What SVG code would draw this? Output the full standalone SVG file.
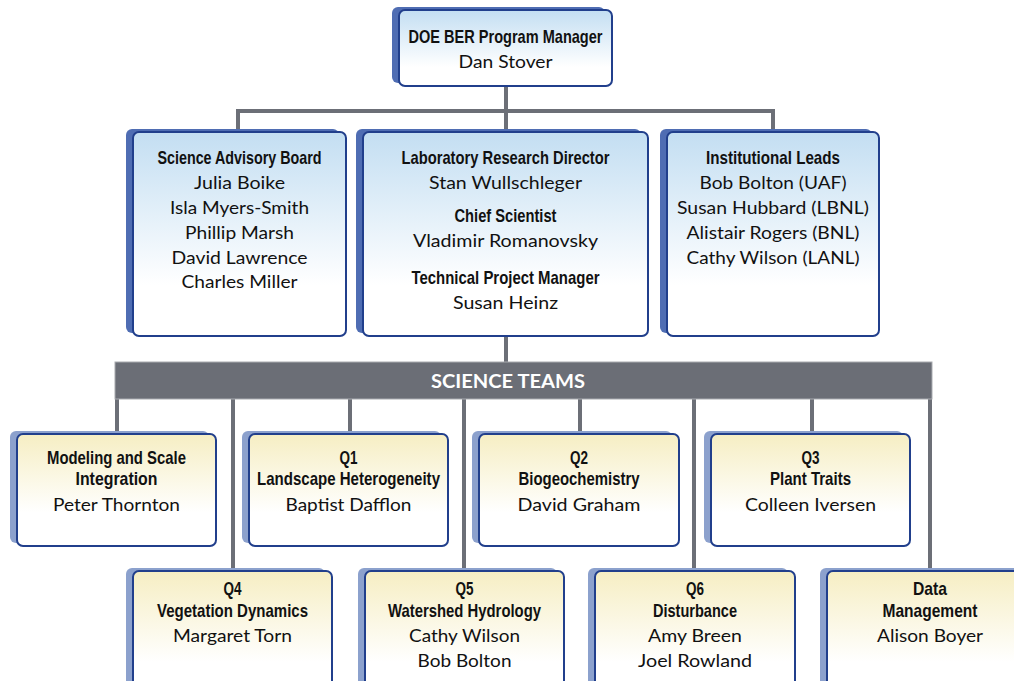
<svg xmlns="http://www.w3.org/2000/svg" width="1014" height="681" viewBox="0 0 1014 681">
<defs>
<linearGradient id="gBlue" x1="0" y1="0" x2="0" y2="1">
<stop offset="0" stop-color="#c3def2"/>
<stop offset="0.75" stop-color="#ffffff"/>
</linearGradient>
<linearGradient id="gYel" x1="0" y1="0" x2="0" y2="1">
<stop offset="0" stop-color="#f6eec3"/>
<stop offset="0.7" stop-color="#ffffff"/>
</linearGradient>
<style>
.shB{fill:#4f6db3}
.shY{fill:#8ca1cd}
.fB{fill:url(#gBlue);stroke:#213f8c;stroke-width:2}
.fY{fill:url(#gYel);stroke:#213f8c;stroke-width:2}
.t{font-family:"Liberation Sans Narrow","Liberation Sans",Arial,sans-serif;font-weight:bold;font-size:19px;fill:#111;text-anchor:middle}
.n{font-family:Lato,"Noto Sans","Liberation Sans",sans-serif;font-size:18px;fill:#111;text-anchor:middle}
.st{font-family:Lato,"Liberation Sans",sans-serif;font-weight:bold;font-size:18px;fill:#ffffff;text-anchor:middle}
.c{stroke:#6c6f77;stroke-width:4;fill:none}
</style>
</defs>
<rect width="1014" height="681" fill="#ffffff"/>

<g id="connectors">
<line class="c" x1="506" y1="86" x2="506" y2="111"/>
<line class="c" x1="236" y1="111" x2="775" y2="111"/>
<line class="c" x1="238" y1="111" x2="238" y2="131"/>
<line class="c" x1="506" y1="111" x2="506" y2="131"/>
<line class="c" x1="773" y1="111" x2="773" y2="131"/>
<line class="c" x1="506" y1="336" x2="506" y2="362"/>
<line class="c" x1="117" y1="399" x2="117" y2="433"/>
<line class="c" x1="233" y1="399" x2="233" y2="570"/>
<line class="c" x1="350" y1="399" x2="350" y2="433"/>
<line class="c" x1="464" y1="399" x2="464" y2="570"/>
<line class="c" x1="580" y1="399" x2="580" y2="433"/>
<line class="c" x1="694" y1="399" x2="694" y2="570"/>
<line class="c" x1="812" y1="399" x2="812" y2="433"/>
<line class="c" x1="930" y1="399" x2="930" y2="570"/>
</g>

<g id="science-teams-bar">
<rect x="115" y="362" width="817" height="37" fill="#6b6e76" stroke="#a9abb0" stroke-width="1"/>
<text class="st" x="508" y="388" textLength="154" lengthAdjust="spacingAndGlyphs">SCIENCE TEAMS</text>
</g>

<g id="program-manager">
<rect class="shB" x="392" y="7" width="213" height="76" rx="6"/>
<rect class="fB" x="399" y="10" width="213" height="76" rx="6"/>
<text class="t" x="505.5" y="43" textLength="194" lengthAdjust="spacingAndGlyphs">DOE BER Program Manager</text>
<text class="n" x="505.5" y="68" textLength="94" lengthAdjust="spacingAndGlyphs">Dan Stover</text>
</g>

<g id="science-advisory-board">
<rect class="shB" x="126" y="129" width="213" height="204" rx="6"/>
<rect class="fB" x="133" y="132" width="213" height="204" rx="6"/>
<text class="t" x="239.5" y="164" textLength="164" lengthAdjust="spacingAndGlyphs">Science Advisory Board</text>
<text class="n" x="239.5" y="189" textLength="91" lengthAdjust="spacingAndGlyphs">Julia Boike</text>
<text class="n" x="239.5" y="214" textLength="139" lengthAdjust="spacingAndGlyphs">Isla Myers-Smith</text>
<text class="n" x="239.5" y="239" textLength="109" lengthAdjust="spacingAndGlyphs">Phillip Marsh</text>
<text class="n" x="239.5" y="264" textLength="136" lengthAdjust="spacingAndGlyphs">David Lawrence</text>
<text class="n" x="239.5" y="288" textLength="116" lengthAdjust="spacingAndGlyphs">Charles Miller</text>
</g>

<g id="lab-research-director">
<rect class="shB" x="356" y="129" width="285" height="204" rx="6"/>
<rect class="fB" x="363" y="132" width="285" height="204" rx="6"/>
<text class="t" x="505.5" y="164" textLength="208" lengthAdjust="spacingAndGlyphs">Laboratory Research Director</text>
<text class="n" x="505.5" y="189" textLength="153" lengthAdjust="spacingAndGlyphs">Stan Wullschleger</text>
<text class="t" x="505.5" y="222" textLength="102" lengthAdjust="spacingAndGlyphs">Chief Scientist</text>
<text class="n" x="505.5" y="247" textLength="185" lengthAdjust="spacingAndGlyphs">Vladimir Romanovsky</text>
<text class="t" x="505.5" y="284" textLength="188" lengthAdjust="spacingAndGlyphs">Technical Project Manager</text>
<text class="n" x="505.5" y="309" textLength="105" lengthAdjust="spacingAndGlyphs">Susan Heinz</text>
</g>

<g id="institutional-leads">
<rect class="shB" x="660" y="129" width="212" height="204" rx="6"/>
<rect class="fB" x="667" y="132" width="212" height="204" rx="6"/>
<text class="t" x="773" y="164" textLength="134" lengthAdjust="spacingAndGlyphs">Institutional Leads</text>
<text class="n" x="773" y="189" textLength="147" lengthAdjust="spacingAndGlyphs">Bob Bolton (UAF)</text>
<text class="n" x="773" y="214" textLength="192" lengthAdjust="spacingAndGlyphs">Susan Hubbard (LBNL)</text>
<text class="n" x="773" y="239" textLength="173" lengthAdjust="spacingAndGlyphs">Alistair Rogers (BNL)</text>
<text class="n" x="773" y="264" textLength="173" lengthAdjust="spacingAndGlyphs">Cathy Wilson (LANL)</text>
</g>

<g id="modeling">
<rect class="shY" x="10" y="431" width="199" height="112" rx="6"/>
<rect class="fY" x="17" y="434" width="199" height="112" rx="6"/>
<text class="t" x="116.5" y="464" textLength="139" lengthAdjust="spacingAndGlyphs">Modeling and Scale</text>
<text class="t" x="116.5" y="485" textLength="82" lengthAdjust="spacingAndGlyphs">Integration</text>
<text class="n" x="116.5" y="511" textLength="127" lengthAdjust="spacingAndGlyphs">Peter Thornton</text>
</g>

<g id="q1">
<rect class="shY" x="242" y="431" width="199" height="112" rx="6"/>
<rect class="fY" x="249" y="434" width="199" height="112" rx="6"/>
<text class="t" x="348.5" y="464" textLength="18" lengthAdjust="spacingAndGlyphs">Q1</text>
<text class="t" x="348.5" y="485" textLength="183" lengthAdjust="spacingAndGlyphs">Landscape Heterogeneity</text>
<text class="n" x="348.5" y="511" textLength="126" lengthAdjust="spacingAndGlyphs">Baptist Dafflon</text>
</g>

<g id="q2">
<rect class="shY" x="472" y="431" width="200" height="112" rx="6"/>
<rect class="fY" x="479" y="434" width="200" height="112" rx="6"/>
<text class="t" x="579" y="464" textLength="18" lengthAdjust="spacingAndGlyphs">Q2</text>
<text class="t" x="579" y="485" textLength="121" lengthAdjust="spacingAndGlyphs">Biogeochemistry</text>
<text class="n" x="579" y="511" textLength="123" lengthAdjust="spacingAndGlyphs">David Graham</text>
</g>

<g id="q3">
<rect class="shY" x="704" y="431" width="199" height="112" rx="6"/>
<rect class="fY" x="711" y="434" width="199" height="112" rx="6"/>
<text class="t" x="810.5" y="464" textLength="18" lengthAdjust="spacingAndGlyphs">Q3</text>
<text class="t" x="810.5" y="485" textLength="81" lengthAdjust="spacingAndGlyphs">Plant Traits</text>
<text class="n" x="810.5" y="511" textLength="131" lengthAdjust="spacingAndGlyphs">Colleen Iversen</text>
</g>

<g id="q4">
<rect class="shY" x="126" y="568" width="199" height="130" rx="6"/>
<rect class="fY" x="133" y="571" width="199" height="130" rx="6"/>
<text class="t" x="232.5" y="595" textLength="18" lengthAdjust="spacingAndGlyphs">Q4</text>
<text class="t" x="232.5" y="617" textLength="151" lengthAdjust="spacingAndGlyphs">Vegetation Dynamics</text>
<text class="n" x="232.5" y="642" textLength="119" lengthAdjust="spacingAndGlyphs">Margaret Torn</text>
</g>

<g id="q5">
<rect class="shY" x="358" y="568" width="199" height="130" rx="6"/>
<rect class="fY" x="365" y="571" width="199" height="130" rx="6"/>
<text class="t" x="464.5" y="595" textLength="18" lengthAdjust="spacingAndGlyphs">Q5</text>
<text class="t" x="464.5" y="617" textLength="153" lengthAdjust="spacingAndGlyphs">Watershed Hydrology</text>
<text class="n" x="464.5" y="642" textLength="111" lengthAdjust="spacingAndGlyphs">Cathy Wilson</text>
<text class="n" x="464.5" y="667" textLength="94" lengthAdjust="spacingAndGlyphs">Bob Bolton</text>
</g>

<g id="q6">
<rect class="shY" x="588" y="568" width="200" height="130" rx="6"/>
<rect class="fY" x="595" y="571" width="200" height="130" rx="6"/>
<text class="t" x="695" y="595" textLength="18" lengthAdjust="spacingAndGlyphs">Q6</text>
<text class="t" x="695" y="617" textLength="84" lengthAdjust="spacingAndGlyphs">Disturbance</text>
<text class="n" x="695" y="642" textLength="94" lengthAdjust="spacingAndGlyphs">Amy Breen</text>
<text class="n" x="695" y="667" textLength="114" lengthAdjust="spacingAndGlyphs">Joel Rowland</text>
</g>

<g id="data-management">
<rect class="shY" x="820" y="568" width="200" height="130" rx="6"/>
<rect class="fY" x="827" y="571" width="200" height="130" rx="6"/>
<text class="t" x="930" y="595" textLength="34" lengthAdjust="spacingAndGlyphs">Data</text>
<text class="t" x="930" y="617" textLength="95" lengthAdjust="spacingAndGlyphs">Management</text>
<text class="n" x="930" y="642" textLength="106" lengthAdjust="spacingAndGlyphs">Alison Boyer</text>
</g>
</svg>
